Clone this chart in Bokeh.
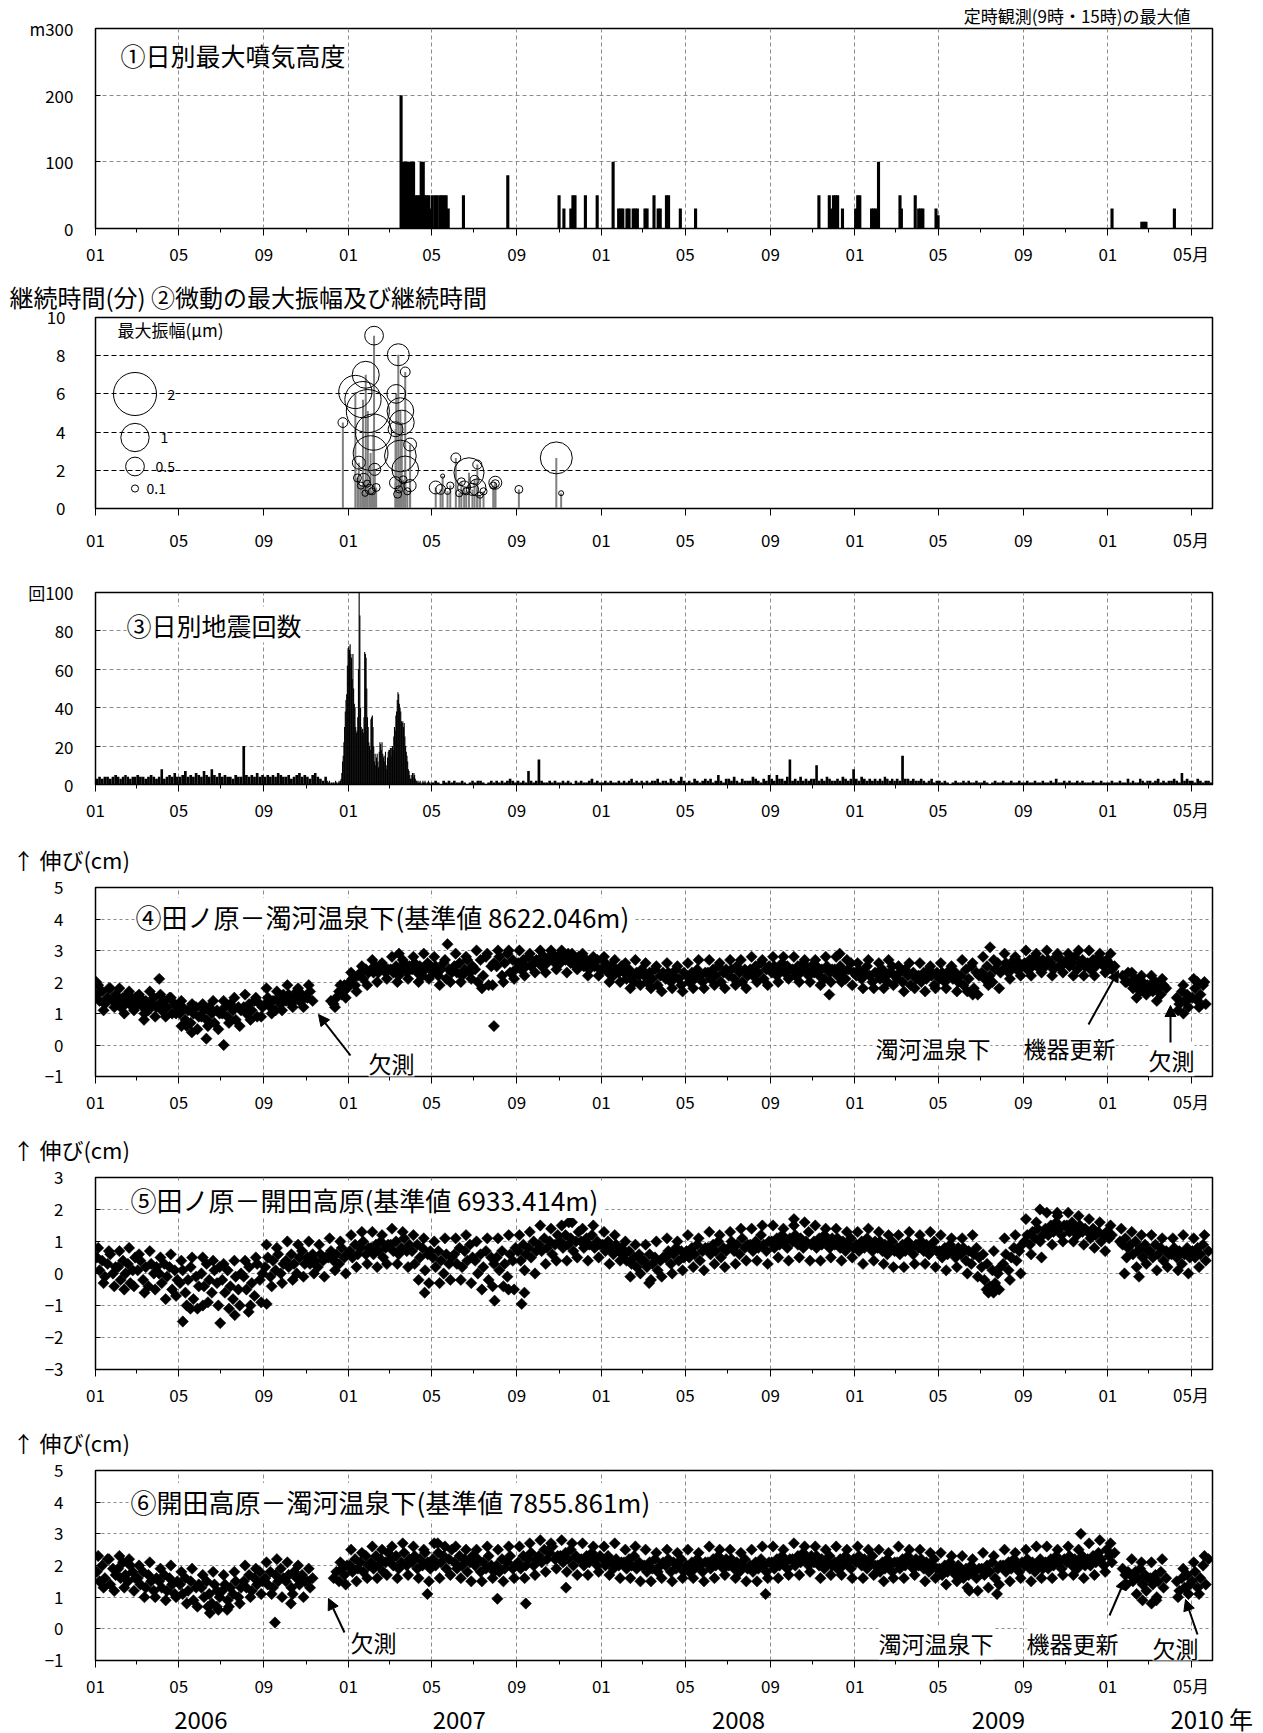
import numpy as np
import pandas as pd
from bokeh.plotting import figure
from bokeh.layouts import column
from bokeh.models import FixedTicker, Label, Arrow, NormalHead, Range1d, Title, LinearAxis
from bokeh.embed import file_html
from bokeh.resources import INLINE

FONT = "Noto Sans CJK JP"
BASE = pd.Timestamp("2006-01-01")
MONTHS = [f"{y}-{m:02d}" for y in range(2006, 2011) for m in range(1, 13)][:53]

# ---------------- panel 1: daily max plume height (m) ----------------
p1_dates = ["2007-03-18", "2007-03-21", "2007-03-24", "2007-03-27", "2007-03-30", "2007-04-02",
            "2007-04-05", "2007-04-08", "2007-04-11", "2007-04-14", "2007-04-16", "2007-04-19",
            "2007-04-21", "2007-04-24", "2007-04-27", "2007-04-30", "2007-05-02", "2007-05-06",
            "2007-05-09", "2007-05-13", "2007-05-16", "2007-05-19", "2007-05-22", "2007-05-25",
            "2007-06-16", "2007-08-19", "2007-11-01", "2007-11-08", "2007-11-18", "2007-11-21",
            "2007-11-24", "2007-12-09", "2007-12-26", "2008-01-18", "2008-01-26", "2008-01-29",
            "2008-02-01", "2008-02-07", "2008-02-10", "2008-02-16", "2008-02-19", "2008-02-22",
            "2008-03-04", "2008-03-07", "2008-03-17", "2008-03-23", "2008-03-26", "2008-04-04",
            "2008-04-07", "2008-04-24", "2008-05-16", "2008-11-10", "2008-11-25", "2008-11-28",
            "2008-12-01", "2008-12-04", "2008-12-07", "2008-12-14", "2009-01-02", "2009-01-05",
            "2009-01-08", "2009-01-25", "2009-01-28", "2009-01-31", "2009-02-04", "2009-03-07",
            "2009-03-09", "2009-03-29", "2009-04-03", "2009-04-06", "2009-04-09", "2009-04-28",
            "2009-05-01", "2010-01-07", "2010-02-19", "2010-02-22", "2010-02-25", "2010-04-07"]
p1_height = [200, 100, 100, 100, 100, 100,
             100, 50, 50, 50, 100, 100,
             50, 50, 50, 30, 50, 50,
             50, 50, 50, 50, 50, 30,
             50, 80, 50, 30, 30, 50,
             50, 50, 50, 100, 30, 30,
             30, 30, 30, 30, 30, 30,
             30, 30, 50, 30, 30, 50,
             50, 30, 30, 50, 50, 30,
             50, 50, 50, 30, 30, 50,
             50, 30, 30, 30, 100, 50,
             30, 50, 30, 30, 30, 30,
             20, 30, 10, 10, 10, 30]

# ---------------- panel 2: tremor duration (min) and max amplitude (um) ----------------
p2_dates = ["2006-12-24", "2007-01-11", "2007-01-26", "2007-02-07", "2007-01-29", "2007-01-22",
            "2007-02-06", "2007-02-02", "2007-01-16", "2007-01-23", "2007-02-01", "2007-02-08",
            "2007-01-14", "2007-01-19", "2007-01-25", "2007-01-28", "2007-02-04", "2007-02-10",
            "2007-03-14", "2007-03-24", "2007-03-11", "2007-03-17", "2007-03-19", "2007-03-10",
            "2007-03-31", "2007-03-17", "2007-03-24", "2007-03-10", "2007-03-31", "2007-03-13",
            "2007-03-15", "2007-03-21", "2007-03-27",
            "2007-05-07", "2007-05-14", "2007-05-17", "2007-06-05", "2007-06-24", "2007-07-06",
            "2007-07-06", "2007-06-17", "2007-06-29", "2007-08-01", "2007-08-01", "2007-09-04",
            "2007-10-28", "2007-11-04", "2007-05-24", "2007-05-28", "2007-06-10", "2007-06-13",
            "2007-06-20", "2007-07-02", "2007-07-10", "2007-07-15", "2007-07-29"]
p2_duration = [4.5, 6.1, 7.0, 9.05, 5.1, 5.7,
               4.0, 2.9, 2.4, 1.5, 1.0, 2.05,
               1.6, 1.2, 0.8, 1.3, 0.9, 1.1,
               8.05, 7.15, 6.0, 5.1, 4.5, 4.15,
               3.35, 2.75, 2.05, 1.35, 1.2, 0.75,
               1.0, 1.5, 0.9,
               1.1, 1.0, 1.7, 2.65, 1.87, 2.3,
               1.1, 1.1, 1.0, 1.35, 1.3, 1.0,
               2.65, 0.8, 0.9, 1.2, 0.8, 1.4,
               0.9, 1.5, 0.7, 0.9, 1.2]
p2_amplitude = [0.17, 1.3, 0.92, 0.5, 2.0, 1.5,
                1.5, 1.4, 0.27, 0.27, 0.17, 0.24,
                0.12, 0.1, 0.08, 0.1, 0.1, 0.12,
                0.65, 0.17, 0.5, 0.9, 0.8, 0.34,
                0.27, 1.2, 0.9, 0.24, 0.24, 0.12,
                0.1, 0.12, 0.1,
                0.27, 0.17, 0.04, 0.17, 1.1, 0.15,
                0.43, 0.27, 0.24, 0.27, 0.12, 0.12,
                1.22, 0.055, 0.08, 0.1, 0.1, 0.12,
                0.1, 0.15, 0.08, 0.1, 0.1]
p2_legend_amp = [2, 1, 0.5, 0.1]
p2_legend_text = ["2", "1", "0.5", "0.1"]

# ---------------- panel 3: daily earthquake counts (binned within month) ----------------
p3_counts = [
    "3 4 3 4 4 3 4 5", "4 3 4 5 4 3 4 4", "5 4 4 3 4 5 4 3", "4 8 3 4 5 4 6 4",
    "4 5 7 4 5 4 6 5", "4 7 5 4 8 5 4 6", "4 5 4 4 3 5 4 4", "20 5 4 5 4 6 4 5",
    "4 5 4 5 4 6 5 4", "4 5 3 4 5 6 4 5", "4 3 5 6 4 3 2 4",
    "2 1 1 2 1 0 1 0 1 1 0 1 2 1 1 0 1 2 1 2 3 6 12 15 22 30 38 44 47 62 71",
    "72 70 73 68 66 55 68 50 42 40 30 27 28 35 60 101 88 40 30 28 29 27 35 69 68 66 50 35 30 22 20",
    "18 34 35 36 30 20 12 16 10 14 16 12 9 17 22 21 18 22 16 14 15 12 17 10 8 14 17 18",
    "18 19 15 19 20 18 25 30 28 36 38 44 48 47 42 40 38 33 32 33 30 32 25 20 17 15 12 8 7 5 3",
    "3 5 6 4 6 5 3 2 2 1 2 1 1 2 1 0 1 2 1 1 2 1 0 1 1 2 1 1 0 1",
    "1 2 1 0 2 1 2 1", "2 1 1 2 1 0 1 2", "1 2 2 1 0 1 2 1", "2 1 2 1 2 3 2 1",
    "2 1 2 1 7 2 1 2", "13 2 1 1 2 1 2 1", "1 2 1 2 1 0 2 1", "2 1 1 2 3 1 2 1",
    "1 2 1 2 1 1 2 1", "2 1 2 3 1 2 1 2", "1 2 1 2 2 3 1 2", "2 1 3 2 1 2 4 2",
    "1 2 1 3 2 1 2 3", "2 3 1 2 5 2 1 3", "3 2 4 2 1 3 2 2", "2 4 3 2 1 3 2 5",
    "3 2 5 3 3 2 4 13", "2 3 2 4 2 3 2 3", "3 10 2 3 2 4 3 2", "2 3 2 4 3 2 3 8",
    "3 2 4 3 2 3 2 3", "2 3 2 4 3 2 3 2", "3 2 15 3 3 2 3 2", "2 3 2 1 2 3 1 2",
    "2 1 2 1 0 1 2 1", "1 2 1 2 1 1 2 1", "1 2 1 0 1 2 1 1", "2 1 1 2 1 1 2 1",
    "1 2 1 1 2 1 1 2", "1 1 2 1 3 1 1 2", "1 2 1 1 2 1 2 1", "1 1 2 1 1 2 1 1",
    "1 2 1 1 2 1 1 3", "1 2 1 1 3 2 1 2", "2 1 2 3 1 2 1 2", "2 3 2 1 6 2 3 2",
    "2 1 3 2 1 2 2 1",
]

# ---------------- panel 4: 田ノ原－濁河温泉下 (cm), x = missing ----------------
p4_vals = [
    "1.6 1.4 1.7 1.3 1.5 1.8 1.4 1.6", "1.4 1.2 1.5 1.3 1.6 1.4 1.2 1.5", "1.3 1.5 1.2 1.4 1.1 1.3 1.5 1.2",
    "1.3 1.1 1.4 1.2 1.5 1.0 1.3 1.2", "1.0 1.2 0.8 1.1 0.7 1.0 1.2 0.9", "0.9 1.1 0.8 1.2 1.0 0.7 1.1 1.0",
    "1.0 1.2 0.9 1.3 1.1 0.8 1.2 1.1", "1.2 1.0 1.3 1.1 1.4 0.9 1.3 1.2", "1.3 1.5 1.2 1.4 1.1 1.5 1.3 1.6",
    "1.4 1.6 1.3 1.5 1.7 1.4 1.6 1.5", "1.5 1.7 1.4 x x x x x", "x 1.4 1.3 1.5 1.7 1.6 1.9 1.8",
    "2.0 2.1 1.9 2.2 2.3 2.1 2.4 2.3", "2.4 2.3 2.5 2.3 2.4 2.5 2.3 2.4", "2.4 2.3 2.5 2.2 2.4 2.6 2.3 2.5",
    "2.4 2.6 2.3 2.5 2.2 2.4 2.6 2.5", "2.3 2.5 2.2 2.4 2.6 2.1 2.4 2.3", "2.5 2.3 2.6 2.2 2.4 2.7 2.3 2.5",
    "2.4 2.0 2.7 2.2 2.8 1.9 2.5 2.6", "2.5 2.8 2.2 2.6 2.9 2.3 2.7 2.4", "2.6 2.4 2.7 2.5 2.8 2.5 2.6 2.7",
    "2.7 2.5 2.8 2.6 2.7 2.9 2.6 2.8", "2.6 2.8 2.7 2.9 2.6 2.7 2.5 2.8", "2.6 2.5 2.7 2.4 2.6 2.5 2.7 2.4",
    "2.4 2.6 2.3 2.5 2.2 2.4 2.3 2.5", "2.3 2.1 2.4 2.2 2.0 2.3 2.2 2.4", "2.2 2.0 2.3 2.1 2.4 1.9 2.2 2.3",
    "2.1 2.3 2.0 2.2 2.4 2.1 1.9 2.3", "2.2 2.0 2.3 2.1 2.4 2.2 2.0 2.3", "2.3 2.1 2.4 2.2 2.5 2.0 2.3 2.4",
    "2.2 2.4 2.1 2.5 2.3 2.0 2.4 2.2", "2.4 2.2 2.5 2.3 2.6 2.1 2.4 2.5", "2.3 2.5 2.2 2.4 2.6 2.3 2.5 2.4",
    "2.4 2.2 2.5 2.3 2.6 2.4 2.2 2.5", "2.3 2.5 2.2 2.4 2.1 2.5 2.3 2.4", "2.4 2.2 2.5 2.3 2.1 2.4 2.6 2.3",
    "2.2 2.4 2.1 2.3 2.5 2.2 2.0 2.3", "2.3 2.1 2.4 2.2 2.0 2.3 2.5 2.2", "2.1 2.3 2.0 2.4 2.2 1.9 2.3 2.1",
    "2.2 2.0 2.3 2.1 2.4 2.2 1.9 2.3", "2.1 2.3 2.0 2.2 2.4 2.1 2.3 2.0", "2.2 1.9 2.4 2.1 2.5 1.8 2.3 2.2",
    "2.3 2.1 2.5 2.2 2.0 2.4 2.6 2.3", "2.4 2.6 2.3 2.5 2.7 2.4 2.6 2.5", "2.6 2.4 2.7 2.5 2.8 2.6 2.4 2.7",
    "2.5 2.7 2.6 2.4 2.8 2.5 2.7 2.6", "2.7 2.5 2.6 2.8 2.4 2.6 2.7 2.5", "2.6 2.4 2.7 2.5 2.8 2.6 2.5 2.7",
    "2.6 2.4 2.5 x x 2.2 2.0 2.3", "2.0 1.8 2.1 1.9 1.7 2.0 1.8 1.9", "1.9 1.7 2.0 1.8 1.6 1.9 1.8 x",
    "x x 1.5 1.3 1.7 1.4 1.6 1.5", "1.5 1.8 1.4 1.6 1.9 1.3 x x",
]
# wider scatter of the daily points (upper and lower parts of the band)
p4_extra = [
    "1.9 1.1 1.8 1.2", "1.8 1.0 1.7 1.1", "1.6 1.0 1.7 0.9", "1.6 0.9 1.5 1.0", "1.4 0.6 1.3 0.5",
    "1.3 0.6 1.4 0.5", "1.4 0.7 1.5 0.6", "1.6 0.8 1.5 0.9", "1.8 1.0 1.7 1.1", "1.9 1.2 1.8 1.2",
    "1.9 x x x", "x 1.2 1.9 1.5",
    "2.3 1.7 2.5 1.9", "2.7 2.0 2.6 2.1", "2.8 2.0 2.7 2.1", "2.8 2.0 2.9 2.1", "2.8 1.9 2.7 2.0",
    "2.9 2.0 2.8 2.1", "3.0 1.8 2.9 1.9", "3.0 2.0 3.0 2.1", "3.0 2.2 2.9 2.3", "3.0 2.3 3.0 2.4",
    "3.0 2.3 2.9 2.4", "2.9 2.2 2.8 2.2",
    "2.8 2.0 2.7 2.0", "2.6 1.8 2.7 1.9", "2.6 1.8 2.5 1.7", "2.6 1.8 2.5 1.7", "2.6 1.8 2.7 1.8",
    "2.7 1.9 2.6 1.8", "2.7 1.9 2.7 1.8", "2.8 2.0 2.7 1.9", "2.8 2.0 2.8 2.1", "2.8 2.0 2.7 2.0",
    "2.7 1.9 2.8 2.0", "2.8 2.0 2.7 1.9",
    "2.6 1.8 2.7 1.8", "2.6 1.8 2.7 1.9", "2.5 1.7 2.6 1.8", "2.6 1.7 2.5 1.8", "2.6 1.8 2.5 1.7",
    "2.7 1.7 2.6 1.6", "2.8 1.9 2.7 1.8", "2.9 2.1 2.8 2.2", "3.0 2.2 2.9 2.3", "3.0 2.2 2.9 2.3",
    "2.9 2.2 3.0 2.2", "3.0 2.2 2.9 2.3",
    "2.9 x x 2.0", "2.3 1.5 2.2 1.6", "2.2 1.4 2.1 x", "x 1.1 1.9 1.2", "2.1 1.2 2.0 x",
]
p4_out_dates = ["2006-01-02", "2006-04-03", "2006-05-05", "2006-05-20", "2006-06-10", "2006-07-05",
                "2006-03-12", "2007-05-24", "2007-07-30", "2007-03-15", "2008-12-10", "2008-11-25",
                "2009-06-20", "2009-07-15", "2010-04-20", "2010-05-10"]
p4_out_vals = [2.0, 2.1, 0.6, 0.4, 0.2, 0.0, 0.8, 3.2, 0.6, 2.9, 2.9, 1.6, 1.6, 3.1, 1.0, 2.0]

# ---------------- panel 5: 田ノ原－開田高原 (cm) ----------------
p5_vals = [
    "0.5 0.1 0.4 -0.1 0.3 0.6 0.0 0.2", "0.2 -0.2 0.4 0.0 0.3 -0.3 0.1 0.5", "0.1 0.4 -0.2 0.2 -0.4 0.3 0.0 0.2",
    "0.0 -0.3 0.3 -0.1 0.2 -0.5 0.1 -0.2", "-0.3 0.1 -0.6 -0.2 0.2 -0.8 -0.1 -0.4", "0.0 -0.4 0.3 -0.2 -0.6 0.1 -0.3 0.2",
    "-0.2 -0.6 0.1 -0.4 -0.8 -0.1 -0.5 0.0", "-0.1 -0.5 0.2 -0.3 -0.7 0.3 -0.2 0.0", "0.2 0.5 -0.1 0.4 0.1 0.6 0.0 0.3",
    "0.4 0.2 0.6 0.3 0.0 0.5 0.7 0.3", "0.5 0.3 0.6 0.4 0.2 0.6 0.4 0.5", "0.5 0.7 0.4 0.6 0.3 0.8 0.5 0.6",
    "0.7 0.5 0.9 0.6 0.8 1.0 0.6 0.8", "0.8 0.6 0.9 0.7 1.0 0.5 0.8 0.9", "0.9 0.7 1.0 0.6 0.8 1.1 0.7 0.9",
    "0.7 0.3 0.9 0.5 0.8 0.1 0.6 0.7", "0.5 0.2 0.7 0.4 0.0 0.6 0.3 0.5", "0.6 0.3 0.8 0.2 0.7 0.4 0.9 0.5",
    "0.4 0.0 0.6 0.2 0.7 -0.2 0.5 0.3", "0.5 0.1 0.7 0.3 -0.1 0.6 0.4 0.8", "0.7 0.4 0.9 0.6 0.8 0.5 1.0 0.7",
    "0.9 0.7 1.1 0.8 1.0 0.6 0.9 1.2", "1.0 0.8 1.2 0.9 1.1 0.7 1.0 1.3", "1.0 0.8 1.1 0.9 1.2 0.8 1.0 0.9",
    "0.9 0.7 1.0 0.8 0.6 0.9 0.7 0.8", "0.6 0.4 0.7 0.3 0.5 0.2 0.6 0.4", "0.4 0.2 0.6 0.3 0.5 0.1 0.4 0.5",
    "0.5 0.7 0.3 0.6 0.8 0.4 0.7 0.5", "0.7 0.5 0.8 0.6 0.9 0.4 0.7 0.8", "0.8 0.6 0.9 0.7 1.0 0.5 0.8 0.7",
    "0.8 1.0 0.7 0.9 0.6 1.1 0.8 0.9", "0.9 0.7 1.0 0.8 1.2 0.9 0.7 1.0", "1.0 0.8 1.1 0.9 1.2 1.0 0.8 1.1",
    "1.0 1.2 0.9 1.1 0.8 1.0 1.3 0.9", "1.0 0.8 1.1 0.9 1.2 1.0 0.8 1.1", "0.9 1.1 0.8 1.0 0.7 0.9 1.1 0.8",
    "0.9 0.7 1.0 0.8 1.1 0.9 0.7 1.0", "0.8 1.0 0.7 0.9 0.6 0.8 1.0 0.7", "0.8 0.6 0.9 0.7 1.0 0.8 0.6 0.9",
    "0.8 1.0 0.7 0.9 0.6 0.8 1.0 0.7", "0.7 0.5 0.8 0.6 0.9 0.7 0.5 0.8", "0.6 0.8 0.4 0.7 0.3 0.6 0.8 0.5",
    "0.2 -0.2 0.3 -0.4 0.1 -0.3 0.0 0.2", "0.3 0.6 0.1 0.5 0.8 0.4 0.7 0.9", "1.0 1.2 0.9 1.3 1.1 1.4 1.0 1.2",
    "1.4 1.2 1.5 1.3 1.6 1.4 1.2 1.5", "1.5 1.3 1.6 1.4 1.2 1.5 1.3 1.4", "1.3 1.1 1.4 1.2 1.3 1.0 1.2 1.3",
    "1.1 1.2 x x 1.0 0.9 1.1 0.8", "0.9 0.6 1.0 0.7 0.8 0.5 0.9 0.7", "0.7 0.5 0.9 0.6 0.8 0.4 0.7 0.6",
    "0.6 0.8 0.5 0.7 0.3 0.6 0.8 0.5", "0.7 0.5 0.8 0.6 0.9 0.4 0.7 x",
]
p5_extra = [
    "0.8 -0.3 0.7 -0.4", "0.7 -0.5 0.8 -0.4", "0.6 -0.6 0.7 -0.5", "0.5 -0.8 0.6 -0.7", "0.4 -1.0 0.5 -1.1",
    "0.5 -0.9 0.4 -1.0", "0.3 -1.1 0.4 -1.0", "0.4 -1.0 0.5 -0.9", "0.9 -0.4 0.8 -0.3", "1.0 -0.2 0.9 -0.1",
    "1.0 0.0 0.9 -0.1", "1.1 0.1 1.0 0.0",
    "1.2 0.2 1.3 0.3", "1.3 0.2 1.2 0.3", "1.4 0.3 1.3 0.2", "1.2 -0.2 1.1 -0.3", "1.0 -0.3 1.1 -0.2",
    "1.1 -0.2 1.2 -0.3", "1.0 -0.5 1.1 -0.4", "1.1 -0.4 1.2 -0.5", "1.2 0.1 1.3 0.0", "1.5 0.3 1.4 0.4",
    "1.5 0.4 1.6 0.5", "1.4 0.4 1.5 0.5",
    "1.3 0.3 1.2 0.4", "1.0 -0.1 0.9 0.0", "0.9 -0.2 1.0 -0.1", "1.1 0.0 1.0 0.1", "1.2 0.2 1.1 0.1",
    "1.3 0.3 1.2 0.2", "1.3 0.3 1.4 0.4", "1.4 0.4 1.5 0.3", "1.5 0.5 1.4 0.4", "1.5 0.5 1.6 0.4",
    "1.5 0.4 1.4 0.5", "1.4 0.4 1.3 0.5",
    "1.3 0.3 1.4 0.4", "1.3 0.3 1.2 0.2", "1.2 0.2 1.3 0.3", "1.2 0.3 1.3 0.2", "1.2 0.1 1.1 0.2",
    "1.1 0.0 1.2 -0.1", "0.6 -0.6 0.7 -0.5", "1.1 -0.2 1.2 0.0", "1.7 0.6 1.6 0.5", "1.9 0.9 1.8 1.0",
    "1.9 1.0 1.8 0.9", "1.7 0.8 1.6 0.7",
    "1.5 x 1.4 0.5", "1.3 0.2 1.2 0.3", "1.2 0.1 1.1 0.2", "1.1 0.1 1.2 0.0", "1.1 0.2 1.2 x",
]
p5_out_dates = ["2006-05-07", "2006-06-30", "2006-07-21", "2006-09-05", "2006-05-18", "2006-08-10",
                "2006-06-05", "2007-04-21", "2007-07-31", "2007-09-08", "2007-09-12", "2007-08-20",
                "2008-03-10", "2009-07-10", "2009-07-20", "2009-09-25", "2009-10-20", "2010-01-25",
                "2010-02-15", "2007-11-15", "2008-10-05"]
p5_out_vals = [-1.5, -1.55, -1.3, -0.95, -1.1, -1.2, -1.0, -0.6, -0.85, -0.95, -0.6, -0.5,
               -0.3, -0.5, -0.6, 2.0, 1.9, 0.0, -0.1, 1.6, 1.7]

# ---------------- panel 6: 開田高原－濁河温泉下 (cm) ----------------
p6_vals = [
    "1.8 1.5 2.0 1.6 2.2 1.4 1.9 1.7", "1.9 1.6 2.1 1.7 1.5 2.0 1.8 1.6", "1.6 1.4 1.8 1.3 1.7 1.5 1.2 1.6",
    "1.5 1.3 1.7 1.2 1.6 1.4 1.1 1.5", "1.4 1.1 1.6 1.2 1.5 0.9 1.3 1.4", "1.3 1.0 1.5 1.1 0.8 1.4 1.2 1.0",
    "1.2 1.4 0.9 1.3 1.1 1.5 1.0 1.3", "1.5 1.3 1.7 1.2 1.6 1.4 1.8 1.5", "1.6 1.4 1.8 1.3 1.7 1.5 1.9 1.6",
    "1.5 1.7 1.3 1.8 1.6 1.4 1.7 1.5", "1.5 1.3 1.6 x x x x x", "x x 1.6 1.8 1.5 1.9 1.7 2.0",
    "2.0 1.8 2.2 1.9 2.1 1.8 2.3 2.0", "2.1 1.9 2.3 2.0 2.2 1.8 2.1 2.4", "2.2 2.0 2.3 1.9 2.1 2.4 2.0 2.2",
    "2.1 2.3 1.9 2.2 2.0 2.4 2.1 1.9", "2.2 2.0 2.4 2.1 2.3 1.9 2.2 2.5", "2.1 1.9 2.3 2.0 2.2 1.8 2.1 2.3",
    "2.0 2.2 1.8 2.1 1.9 2.3 2.0 1.8", "2.0 1.8 2.2 1.9 2.1 2.3 1.9 2.0", "2.1 1.9 2.3 2.0 2.2 2.4 2.0 2.2",
    "2.3 2.1 2.5 2.2 2.4 2.6 2.2 2.3", "2.3 2.1 2.4 2.2 2.5 2.0 2.3 2.2", "2.2 2.0 2.3 2.1 2.4 2.2 2.0 2.3",
    "2.2 2.0 2.3 2.1 1.9 2.2 2.0 2.1", "2.1 1.9 2.2 2.0 2.3 1.9 2.1 2.0", "2.0 1.8 2.1 1.9 2.2 1.8 2.0 2.1",
    "2.0 2.2 1.8 2.1 1.9 2.0 2.2 1.8", "2.0 1.8 2.1 1.9 2.2 2.0 1.8 2.1", "2.1 1.9 2.2 2.0 2.3 2.1 1.9 2.2",
    "2.0 2.2 1.9 2.1 1.8 2.0 2.2 1.9", "2.0 1.8 2.1 1.9 2.2 2.0 1.8 2.1", "2.1 1.9 2.2 2.0 2.3 2.1 1.9 2.2",
    "2.2 2.0 2.3 2.1 2.4 2.2 2.0 2.3", "2.1 2.3 2.0 2.2 1.9 2.1 2.3 2.0", "2.1 1.9 2.2 2.0 2.3 2.1 1.9 2.2",
    "2.1 2.3 2.0 2.2 1.9 2.1 2.3 2.0", "2.0 1.8 2.1 1.9 2.2 2.0 1.8 2.1", "2.1 1.9 2.2 2.0 2.3 2.1 1.9 2.2",
    "2.0 2.2 1.9 2.1 1.8 2.0 2.2 1.9", "1.9 1.7 2.0 1.8 2.1 1.9 1.7 2.0", "1.8 1.6 1.9 1.7 2.0 1.8 1.6 1.9",
    "1.9 1.7 2.0 1.8 2.1 1.6 1.9 2.0", "2.0 1.8 2.1 1.9 2.2 2.0 1.8 2.1", "2.0 2.2 1.9 2.1 1.8 2.0 2.2 1.9",
    "2.1 1.9 2.2 2.0 2.3 2.1 1.9 2.2", "2.1 2.3 2.0 2.2 1.9 2.1 2.3 2.0", "2.2 2.0 2.3 2.1 2.4 2.2 2.0 2.5",
    "2.3 2.1 2.4 x x 1.9 1.7 1.8", "1.7 1.5 1.8 1.6 1.9 1.4 1.7 1.6", "1.6 1.4 1.7 1.5 1.8 1.3 1.6 x",
    "x x 1.5 1.2 1.6 1.3 1.7 1.4", "1.5 1.8 1.3 1.6 2.0 1.4 2.2 x",
]
p6_extra = [
    "2.3 1.3 2.2 1.2", "2.3 1.3 2.2 1.2", "2.0 1.0 2.1 1.0", "1.9 0.9 2.0 1.0", "1.8 0.8 1.9 0.7",
    "1.7 0.7 1.8 0.6", "1.7 0.7 1.8 0.8", "2.0 1.0 1.9 1.1", "2.1 1.1 2.2 1.0", "2.1 1.1 2.0 1.0",
    "1.9 x x x", "x x 2.1 1.4",
    "2.5 1.5 2.4 1.6", "2.6 1.6 2.5 1.7", "2.6 1.6 2.7 1.7", "2.6 1.6 2.5 1.5", "2.7 1.6 2.6 1.7",
    "2.6 1.6 2.5 1.5", "2.5 1.5 2.6 1.6", "2.5 1.5 2.6 1.6", "2.6 1.6 2.7 1.7", "2.8 1.8 2.7 1.9",
    "2.8 1.8 2.7 1.7", "2.7 1.7 2.6 1.8",
    "2.6 1.7 2.7 1.6", "2.5 1.6 2.6 1.5", "2.5 1.5 2.4 1.6", "2.5 1.5 2.4 1.6", "2.5 1.6 2.4 1.5",
    "2.6 1.6 2.5 1.7", "2.5 1.6 2.4 1.5", "2.5 1.5 2.6 1.6", "2.6 1.6 2.5 1.7", "2.7 1.7 2.6 1.8",
    "2.6 1.6 2.5 1.7", "2.6 1.7 2.5 1.6",
    "2.6 1.6 2.5 1.7", "2.5 1.5 2.4 1.6", "2.6 1.6 2.5 1.7", "2.5 1.5 2.4 1.6", "2.4 1.4 2.3 1.5",
    "2.3 1.3 2.2 1.2", "2.4 1.3 2.3 1.4", "2.5 1.5 2.4 1.6", "2.5 1.5 2.6 1.6", "2.6 1.6 2.5 1.7",
    "2.6 1.7 2.5 1.6", "2.7 1.7 2.8 1.8",
    "2.7 x x 1.4", "2.2 1.1 2.1 1.2", "2.1 1.0 2.2 x", "x 1.0 1.9 1.1", "2.1 1.1 2.3 x",
]
p6_out_dates = ["2006-06-15", "2006-06-25", "2006-09-17", "2006-10-10", "2006-07-10", "2007-04-25",
                "2007-08-04", "2007-09-14", "2007-11-11", "2008-08-25", "2009-11-23", "2010-03-05",
                "2010-03-12", "2010-02-20", "2009-07-25", "2009-06-15", "2007-05-10"]
p6_out_vals = [0.5, 0.7, 0.2, 0.8, 0.6, 1.1, 0.95, 0.8, 1.3, 1.1, 3.0, 0.8, 0.9, 0.9, 1.1, 1.2, 2.7]

year_labels = ["2006", "2007", "2008", "2009", "2010 年"]


# ---------------- helpers ----------------
def day(s):
    return (pd.Timestamp(s) - BASE).days


def expand(vals):
    xs, ys, ws = [], [], []
    for m, s in zip(MONTHS, vals):
        start = pd.Timestamp(m + "-01")
        L = start.days_in_month
        d0 = day(start)
        toks = s.split()
        n = len(toks)
        for i, t in enumerate(toks):
            if t == "x":
                continue
            xs.append(d0 + (i + 0.5) * L / n)
            ys.append(float(t))
            ws.append(L / n)
    return xs, ys, ws


XMAX = day("2010-06-01")
FRAME_W = 1117
LEFT = 95
PXD = FRAME_W / XMAX

MAJOR = [day(m + "-01") for m in MONTHS if m[5:] in ("01", "05", "09")]
MAJOR_LAB = [m[5:] for m in MONTHS if m[5:] in ("01", "05", "09")]
MAJOR_LAB[-1] = "05月"
MINOR = [day(m + "-01") for m in MONTHS if m[5:] in ("03", "07", "11")]

# page geometry of each panel: frame top, frame height, ymin, ymax, figure top, figure end
GEOM = {
    1: (26, 200, 0, 300, 0, 271),
    2: (315, 191, 0, 10, 271, 560),
    3: (590, 192, 0, 100, 560, 825),
    4: (885, 189, -1, 5, 825, 1115),
    5: (1175, 192, -3, 3, 1115, 1408),
    6: (1468, 190, -1, 5, 1408, 1733),
}


def X(px):
    return (px - LEFT) / PXD


def Y(pn, py):
    top, h, ymin, ymax, _, _ = GEOM[pn]
    return ymax - (py - top) * (ymax - ymin) / h


def make(pn, yticks, standoff, minor=True, ylab=None, xstand=5):
    top, h, ymin, ymax, ftop, fend = GEOM[pn]
    p = figure(title=None, frame_width=FRAME_W, frame_height=h,
               x_range=Range1d(0, XMAX), y_range=Range1d(ymin, ymax),
               output_backend="svg", toolbar_location=None, tools="",
               min_border_left=LEFT, min_border_right=48,
               min_border_top=top - ftop, min_border_bottom=fend - (top + h))
    p.background_fill_color = "white"
    p.border_fill_color = "white"
    p.outline_line_color = "black"
    p.outline_line_width = 1.5
    xa = p.xaxis[0]
    xa.ticker = FixedTicker(ticks=MAJOR, minor_ticks=MINOR if minor else [])
    xa.major_label_overrides = dict(zip(MAJOR, MAJOR_LAB))
    xa.major_tick_out = 7
    xa.major_tick_in = 0
    xa.minor_tick_out = 4
    xa.minor_tick_in = 0
    xa.axis_line_color = "black"
    xa.major_tick_line_color = "black"
    xa.minor_tick_line_color = "black" if minor else None
    xa.major_label_text_font = FONT
    xa.major_label_text_font_size = "17px"
    xa.major_label_text_color = "black"
    xa.major_label_standoff = xstand
    ya = p.yaxis[0]
    ya.ticker = FixedTicker(ticks=yticks)
    if ylab:
        ya.major_label_overrides = {yticks[-1]: ylab + str(yticks[-1])}
    ya.major_tick_in = 5
    ya.major_tick_out = 0
    ya.minor_tick_line_color = None
    ya.axis_line_color = "black"
    ya.major_tick_line_color = "black"
    ya.major_label_text_font = FONT
    ya.major_label_text_font_size = "17px"
    ya.major_label_text_color = "black"
    ya.major_label_standoff = standoff
    p.xgrid.ticker = FixedTicker(ticks=MAJOR)
    p.ygrid.ticker = FixedTicker(ticks=yticks[1:-1])
    for g in (p.xgrid, p.ygrid):
        g.grid_line_color = "#8c8c8c"
        g.grid_line_width = 1
        g.grid_line_dash = "4 3"
    return p


def head(p, s, size, align="left", offset=0, standoff=4):
    p.add_layout(Title(text=s, align=align, offset=offset, standoff=standoff,
                       text_font=FONT, text_font_size=f"{size}px",
                       text_font_style="normal", text_color="black"), "above")


def text(p, pn, px, py, s, size, align="left", bg=None, style="normal"):
    p.add_layout(Label(x=X(px), y=Y(pn, py), text=s, text_font=FONT,
                       text_font_size=f"{size}px", text_align=align,
                       text_baseline="middle", text_color="black", text_font_style=style,
                       background_fill_color=bg, background_fill_alpha=1.0 if bg else 0.0))


def arrow(p, pn, x0, y0, x1, y1):
    p.add_layout(Arrow(end=NormalHead(size=11, fill_color="black", line_color="black", line_width=1),
                       x_start=X(x0), y_start=Y(pn, y0), x_end=X(x1), y_end=Y(pn, y1),
                       line_width=2, line_color="black"))


# ---------------- panel 1 ----------------
p1 = make(1, [0, 100, 200, 300], 22, ylab="m")
p1.vbar(x=[day(d) for d in p1_dates], top=p1_height, bottom=0, width=4.5,
        fill_color="black", line_color=None)
text(p1, 1, 120, 52, "①日別最大噴気高度", 25)
head(p1, "定時観測(9時・15時)の最大値", 17, align="right", offset=22, standoff=1)

# ---------------- panel 2 ----------------
p2 = make(2, [0, 2, 4, 6, 8, 10], 30, minor=False, xstand=11)
p2.xgrid.grid_line_color = None
p2.ygrid.grid_line_color = "black"
p2.ygrid.grid_line_dash = "5 3"
x2 = [day(d) for d in p2_dates]
size2 = [28.4 * a ** 0.6 for a in p2_amplitude]
p2.segment(x0=x2, y0=[0] * len(x2), x1=x2, y1=p2_duration, line_color="#808080", line_width=2)
p2.scatter(x=x2, y=p2_duration, size=size2, marker="circle", fill_color=None,
           line_color="black", line_width=1)
leg_y = [Y(2, 391.5), Y(2, 435), Y(2, 464), Y(2, 486)]
leg_x = [X(134.5)] * 4
p2.scatter(x=leg_x, y=leg_y, size=[28.4 * a ** 0.6 for a in p2_legend_amp], marker="circle",
           fill_color=None, line_color="black", line_width=1)
for t, lx, ly in zip(p2_legend_text, [167, 160, 155, 146], [391.5, 435, 464, 486]):
    text(p2, 2, lx, ly, t, 14)
text(p2, 2, 117, 327, "最大振幅(μm)", 17)
head(p2, "継続時間(分) ②微動の最大振幅及び継続時間", 24, offset=9 - LEFT, standoff=7)

# ---------------- panel 3 ----------------
p3 = make(3, [0, 20, 40, 60, 80, 100], 22, ylab="回")
x3, y3, w3 = expand(p3_counts)
p3.vbar(x=x3, top=y3, bottom=0, width=[max(w, 1.6) for w in w3], fill_color="black", line_color=None)
text(p3, 3, 126, 622, "③日別地震回数", 25, bg="white")


# ---------------- panels 4-6 ----------------
def scatter_panel(p, vals, extra, od, ov):
    xs, ys, _ = expand(vals)
    xe, ye, _ = expand(extra)
    xs = xs + xe + [day(d) for d in od]
    ys = ys + ye + list(ov)
    p.scatter(x=xs, y=ys, marker="square", angle=np.pi / 4, size=8,
              fill_color="black", line_color="black", line_width=0.5)


p4 = make(4, [-1, 0, 1, 2, 3, 4, 5], 32)
p4.ygrid.grid_line_dash = "3 3"
scatter_panel(p4, p4_vals, p4_extra, p4_out_dates, p4_out_vals)
head(p4, "↑ 伸び(cm)", 22, offset=12 - LEFT, standoff=26)
text(p4, 4, 135, 914, "④田ノ原－濁河温泉下(基準値  8622.046m)", 26, bg="white")
text(p4, 4, 368, 1060, "欠測", 23, bg="white")
arrow(p4, 4, 350, 1053, 318, 1012)
text(p4, 4, 875, 1045, "濁河温泉下", 23, bg="white")
text(p4, 4, 1023, 1045, "機器更新", 23, bg="white")
arrow(p4, 4, 1088, 1022, 1118, 968)
text(p4, 4, 1148, 1057, "欠測", 23, bg="white")
arrow(p4, 4, 1170, 1040, 1170, 1003)

p5 = make(5, [-3, -2, -1, 0, 1, 2, 3], 32)
p5.ygrid.grid_line_dash = "3 3"
scatter_panel(p5, p5_vals, p5_extra, p5_out_dates, p5_out_vals)
head(p5, "↑ 伸び(cm)", 22, offset=12 - LEFT, standoff=26)
text(p5, 5, 130, 1197, "⑤田ノ原－開田高原(基準値  6933.414m)", 26, bg="white")

p6 = make(6, [-1, 0, 1, 2, 3, 4, 5], 32)
p6.ygrid.grid_line_dash = "3 3"
scatter_panel(p6, p6_vals, p6_extra, p6_out_dates, p6_out_vals)
head(p6, "↑ 伸び(cm)", 22, offset=12 - LEFT, standoff=26)
text(p6, 6, 130, 1499, "⑥開田高原－濁河温泉下(基準値  7855.861m)", 26, bg="white")
text(p6, 6, 350, 1639, "欠測", 23, bg="white")
arrow(p6, 6, 344, 1630, 328, 1596)
text(p6, 6, 878, 1640, "濁河温泉下", 23, bg="white")
text(p6, 6, 1026, 1640, "機器更新", 23, bg="white")
arrow(p6, 6, 1109, 1613, 1125, 1576)
text(p6, 6, 1152, 1645, "欠測", 23, bg="white")
arrow(p6, 6, 1197, 1632, 1185, 1597)

year_ticks = [int(round(X(px))) for px in (200, 459, 738, 998)] + [XMAX - 1]
year_axis = LinearAxis(ticker=FixedTicker(ticks=year_ticks),
                       major_label_overrides=dict(zip(year_ticks, year_labels)),
                       axis_line_color=None, major_tick_line_color=None, minor_tick_line_color=None,
                       major_tick_in=0, major_tick_out=0,
                       major_label_text_font=FONT, major_label_text_font_size="24px",
                       major_label_text_color="black", major_label_standoff=0)
p6.add_layout(year_axis, "below")

layout = column(p1, p2, p3, p4, p5, p6, spacing=0)
open("out.html", "w").write(file_html(layout, INLINE))
